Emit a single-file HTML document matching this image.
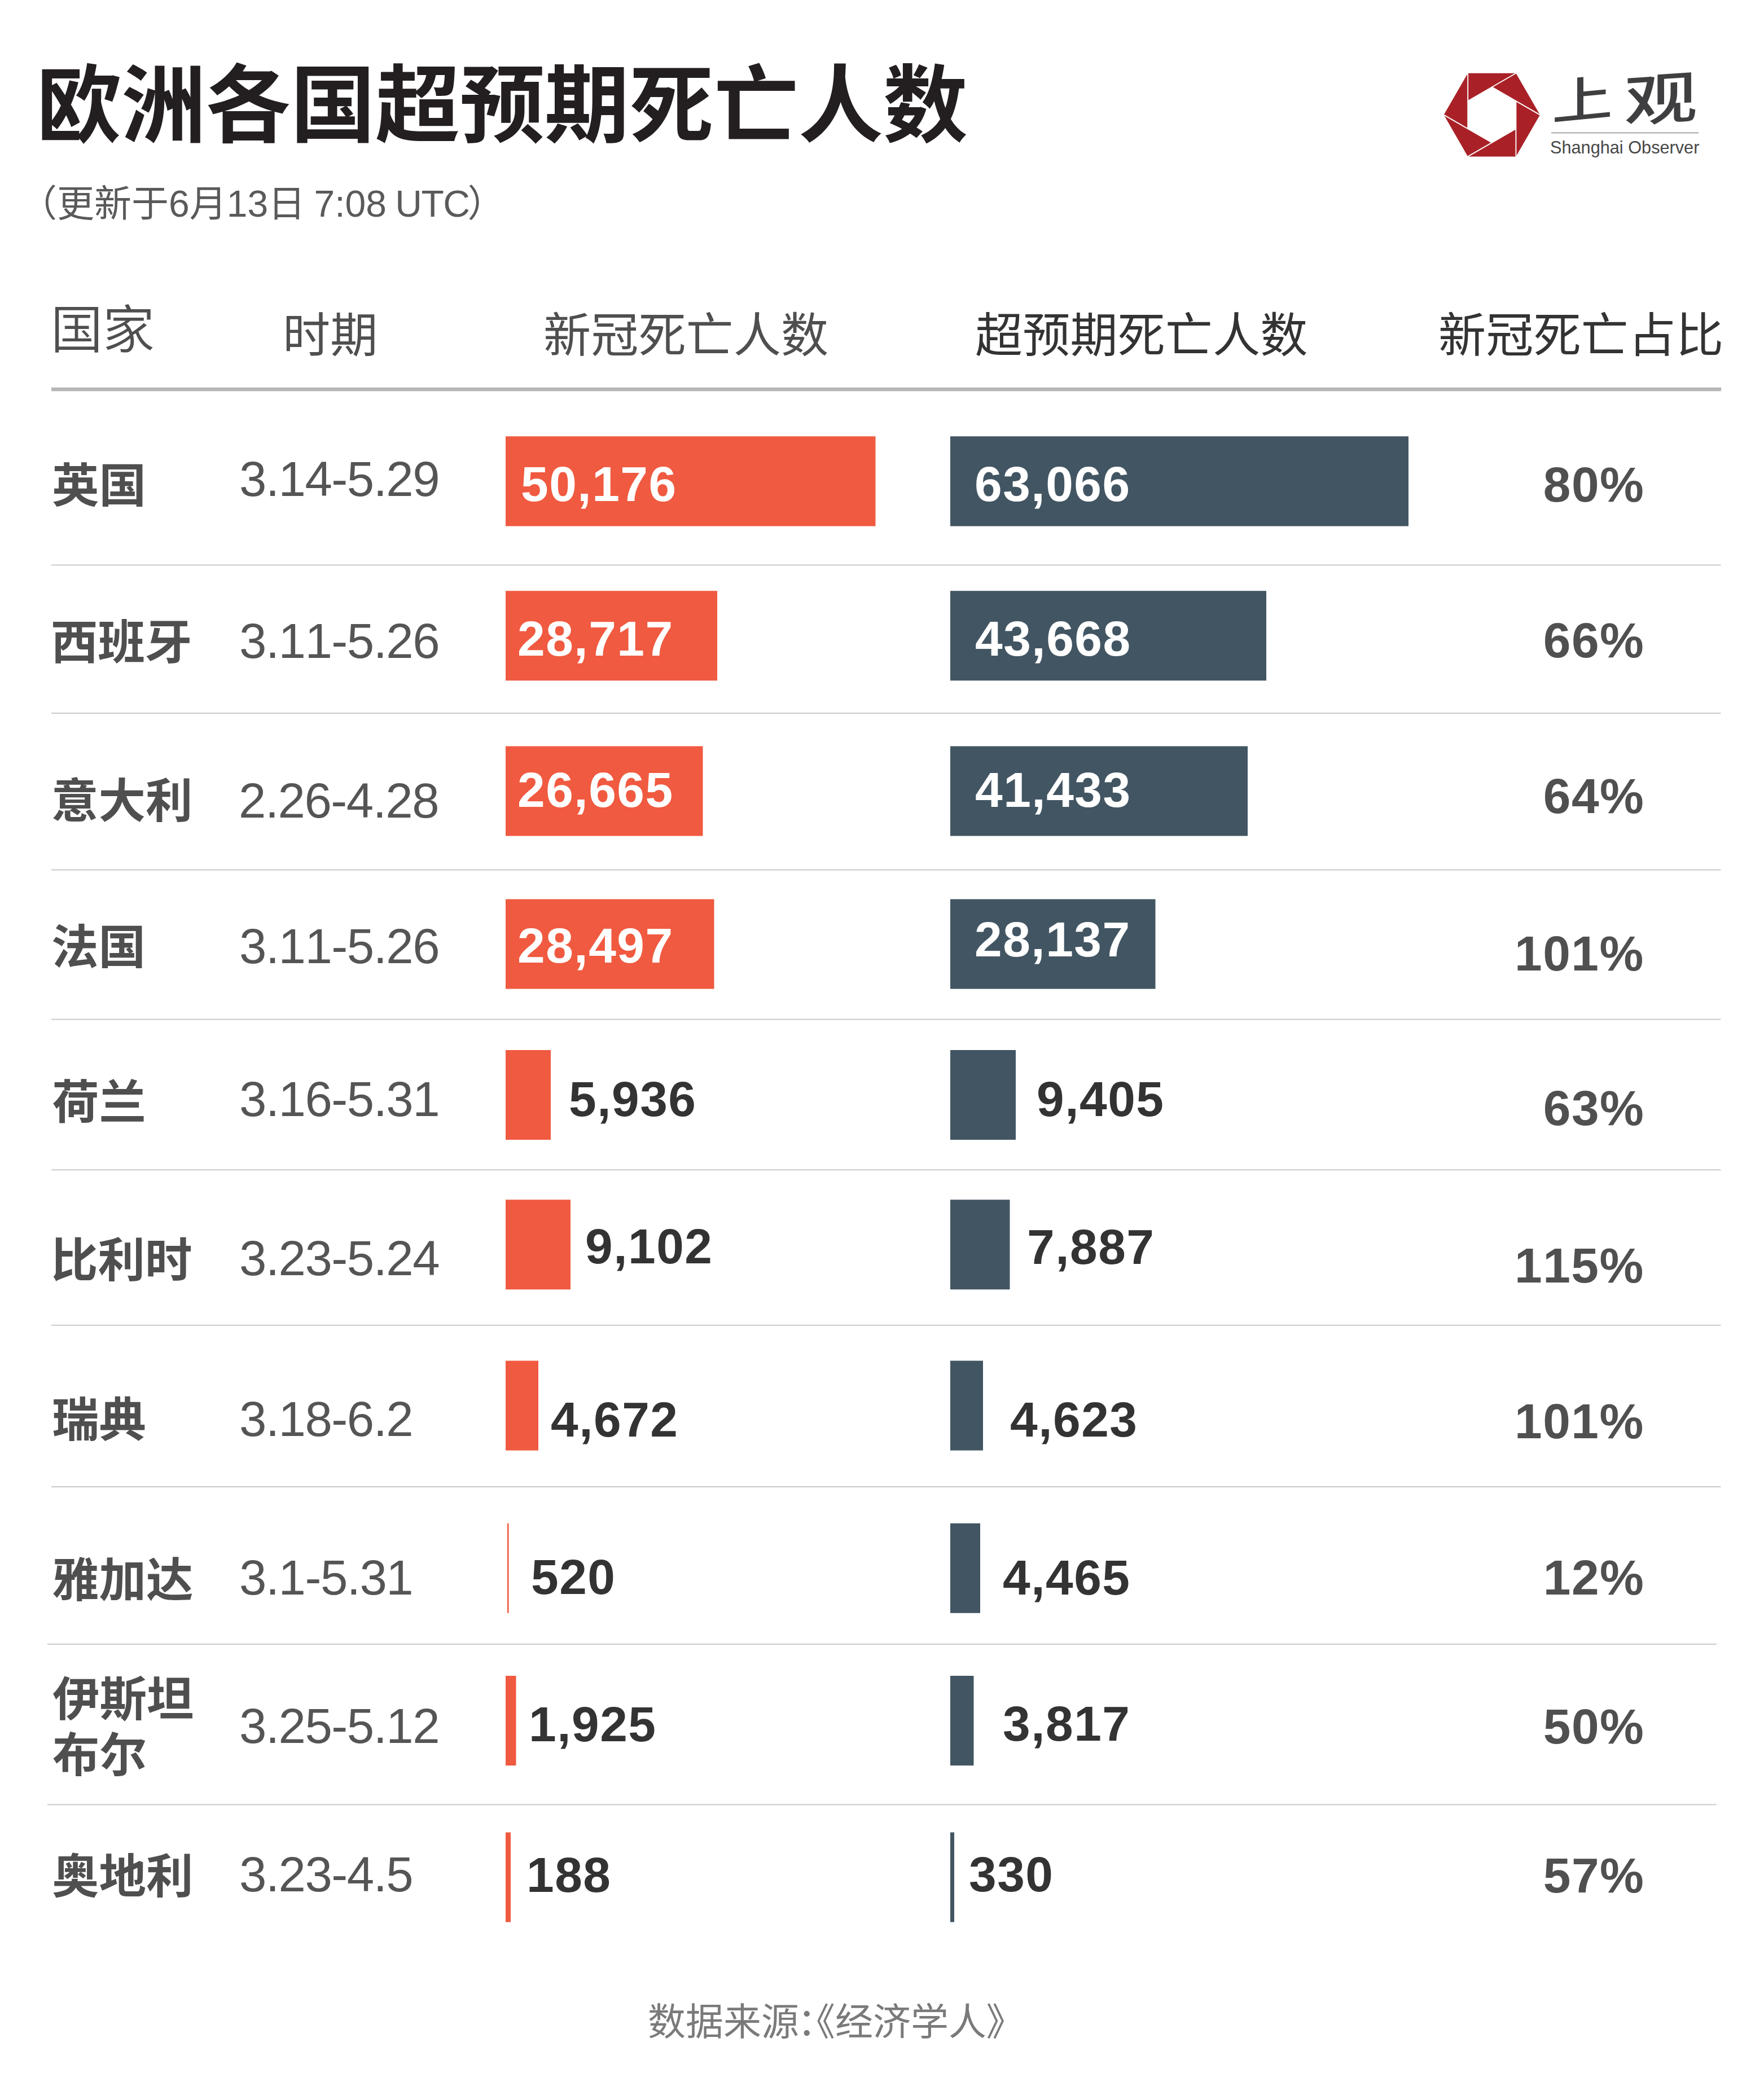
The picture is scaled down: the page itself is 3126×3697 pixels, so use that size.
<!DOCTYPE html>
<html lang="zh-CN">
<head>
<meta charset="utf-8">
<title>欧洲各国超预期死亡人数</title>
<style>
html,body{margin:0;padding:0;background:#fff;}
body{width:3126px;height:3697px;position:relative;overflow:hidden;font-family:"Liberation Sans", "Noto Sans CJK SC", sans-serif;}
.t{position:absolute;white-space:nowrap;line-height:1;margin:0;text-spacing-trim:space-all;}
.r{position:absolute;}
.hl{fill:#b6b6b6;}
.sp{fill:#cbcbcb;}
.rb{fill:#f05a40;}
.nb{fill:#425563;}
.title{font-size:150px;font-weight:700;color:#231f20;}
.sub{font-size:66px;font-weight:400;color:#5a5a5a;word-spacing:-3px;}
.sub .lat{letter-spacing:-1.5px;}
.sub .pe{margin-left:-3px;}
.hd{font-size:84.2px;font-weight:400;color:#4f4f4f;}
.hd.h1{font-size:92px;font-weight:350;}
.hd.dk{color:#333;}
.nm{font-size:83.5px;font-weight:700;color:#4f4f4f;line-height:98.5px;}
.dt{font-kerning:none;font-size:87px;font-weight:400;color:#555;letter-spacing:-1.5px;}
.num{font-kerning:none;font-size:87.5px;font-weight:700;color:#333;letter-spacing:1.5px;}
.num.wh{color:#fff;}
.num.pc{color:#505050;}
.foot{font-size:67px;font-weight:400;color:#7a7a7a;}
.foot .pc2{margin-left:-3px;margin-right:-1em;}
.foot .pr{margin-left:-0.5px;}
.brand{font-weight:500;color:#3f3f41;transform-origin:0 0;}
.lg1{font-size:108px;transform:scale(1,0.8) skewY(-7deg);}
.lg2{font-size:100px;transform:scale(1.3,1) skewY(-5deg);}
.lg3{font-size:30.7px;color:#474747;}
svg{position:absolute;left:0;top:0;overflow:visible;}
</style>
</head>
<body>
<svg width="3126" height="3697" viewBox="0 0 3126 3697">
<rect class="hl" x="91.0" y="686.7" width="2959.0" height="6.6"/>
<rect class="sp" x="91.0" y="1000.4" width="2958.5" height="2.0"/>
<rect class="sp" x="91.0" y="1263.0" width="2958.5" height="2.0"/>
<rect class="sp" x="91.0" y="1540.6" width="2958.5" height="2.0"/>
<rect class="sp" x="91.0" y="1805.6" width="2958.5" height="2.0"/>
<rect class="sp" x="91.0" y="2072.3" width="2958.5" height="2.0"/>
<rect class="sp" x="91.0" y="2347.7" width="2958.5" height="2.0"/>
<rect class="sp" x="91.0" y="2634.0" width="2958.5" height="2.0"/>
<rect class="sp" x="84.0" y="2913.0" width="2958.0" height="2.0"/>
<rect class="sp" x="84.0" y="3197.3" width="2958.0" height="2.0"/>
<rect class="rb" x="896.0" y="773.3" width="655.5" height="159.2"/>
<rect class="nb" x="1684.0" y="773.3" width="812.0" height="159.2"/>
<rect class="rb" x="896.0" y="1047.2" width="375.0" height="159.0"/>
<rect class="nb" x="1684.0" y="1047.2" width="560.0" height="159.0"/>
<rect class="rb" x="896.0" y="1322.5" width="349.5" height="159.0"/>
<rect class="nb" x="1684.0" y="1322.5" width="527.0" height="159.0"/>
<rect class="rb" x="896.0" y="1593.6" width="369.5" height="159.0"/>
<rect class="nb" x="1684.0" y="1593.6" width="363.5" height="159.0"/>
<rect class="rb" x="896.0" y="1861.0" width="80.0" height="159.0"/>
<rect class="nb" x="1684.0" y="1861.0" width="116.0" height="159.0"/>
<rect class="rb" x="896.0" y="2126.2" width="115.0" height="159.1"/>
<rect class="nb" x="1684.0" y="2126.2" width="105.5" height="159.1"/>
<rect class="rb" x="896.0" y="2411.6" width="58.0" height="159.0"/>
<rect class="nb" x="1684.0" y="2411.6" width="58.0" height="159.0"/>
<rect class="rb" x="899.0" y="2699.8" width="2.6" height="159.0"/>
<rect class="nb" x="1684.0" y="2699.8" width="53.0" height="159.0"/>
<rect class="rb" x="896.0" y="2970.0" width="18.5" height="159.0"/>
<rect class="nb" x="1684.0" y="2970.0" width="41.5" height="159.0"/>
<rect class="rb" x="896.0" y="3247.5" width="9.0" height="159.0"/>
<rect class="nb" x="1684.0" y="3247.5" width="7.0" height="159.0"/>
<polygon points="2601.2,129.8 2686.4,129.8 2729.0,203.6 2686.4,277.4 2601.2,277.4 2558.6,203.6" fill="#a92127"/>
<line x1="2601.2" y1="129.8" x2="2601.2" y2="228.2" stroke="#fff" stroke-width="1.9"/>
<line x1="2686.4" y1="129.8" x2="2601.2" y2="179.0" stroke="#fff" stroke-width="1.9"/>
<line x1="2729.0" y1="203.6" x2="2643.8" y2="154.4" stroke="#fff" stroke-width="1.9"/>
<line x1="2686.4" y1="277.4" x2="2686.4" y2="179.0" stroke="#fff" stroke-width="1.9"/>
<line x1="2601.2" y1="277.4" x2="2686.4" y2="228.2" stroke="#fff" stroke-width="1.9"/>
<line x1="2558.6" y1="203.6" x2="2643.8" y2="252.8" stroke="#fff" stroke-width="1.9"/>
<polygon points="2601.2,179.0 2643.8,154.4 2686.4,179.0 2686.4,228.2 2643.8,252.8 2601.2,228.2" fill="#fff"/>
<rect x="2749" y="235" width="261.3" height="0.9" fill="#4a4a4a"/>
</svg>
<header>
<div class="t title" id="title" style="left:65.0px;top:113.2px">欧洲各国超预期死亡人数</div>
<div class="t sub" id="sub" style="left:35.0px;top:328.0px">（更新于6月13日 7:08 <span class="lat">UTC</span><span class="pe">）</span></div>
<div class="logo">
<div class="t brand lg1" id="lg1" style="left:2750.0px;top:141.0px">上</div>
<div class="t brand lg2" id="lg2" style="left:2878.0px;top:131.0px">观</div>
<div class="t lg3" id="lg3" style="left:2747.0px;top:247.0px">Shanghai Observer</div>
</div>
</header>
<main>
<div class="thead">
<div class="t hd h1" id="h1" style="left:90.0px;top:539.0px">国家</div>
<div class="t hd" id="h2" style="left:501.0px;top:553.0px">时期</div>
<div class="t hd" id="h3" style="left:963.0px;top:553.0px">新冠死亡人数</div>
<div class="t hd dk" id="h4" style="left:1728.0px;top:553.0px">超预期死亡人数</div>
<div class="t hd dk" id="h5" style="left:2549.0px;top:553.0px">新冠死亡占比</div>
</div>
<div class="row">
<div class="t nm" id="n0" style="left:92.0px;top:812.0px">英国</div>
<div class="t dt" id="d0" style="left:424.0px;top:805.0px">3.14-5.29</div>
<div class="t num wh" id="a0" style="left:923.0px;top:815.0px">50,176</div>
<div class="t num wh" id="b0" style="left:1727.0px;top:815.0px">63,066</div>
<div class="t num pc" id="p0" style="left:2734.8px;top:816.0px">80%</div>
</div>
<div class="row">
<div class="t nm" id="n1" style="left:90.0px;top:1090.0px">西班牙</div>
<div class="t dt" id="d1" style="left:424.0px;top:1092.0px">3.11-5.26</div>
<div class="t num wh" id="a1" style="left:917.0px;top:1089.0px">28,717</div>
<div class="t num wh" id="b1" style="left:1728.0px;top:1089.0px">43,668</div>
<div class="t num pc" id="p1" style="left:2734.8px;top:1092.2px">66%</div>
</div>
<div class="row">
<div class="t nm" id="n2" style="left:91.0px;top:1371.0px">意大利</div>
<div class="t dt" id="d2" style="left:423.0px;top:1375.0px">2.26-4.28</div>
<div class="t num wh" id="a2" style="left:917.0px;top:1357.0px">26,665</div>
<div class="t num wh" id="b2" style="left:1728.0px;top:1357.0px">41,433</div>
<div class="t num pc" id="p2" style="left:2734.8px;top:1368.0px">64%</div>
</div>
<div class="row">
<div class="t nm" id="n3" style="left:91.0px;top:1630.0px">法国</div>
<div class="t dt" id="d3" style="left:424.0px;top:1633.0px">3.11-5.26</div>
<div class="t num wh" id="a3" style="left:917.0px;top:1633.0px">28,497</div>
<div class="t num wh" id="b3" style="left:1727.0px;top:1622.0px">28,137</div>
<div class="t num pc" id="p3" style="left:2684.0px;top:1647.0px">101%</div>
</div>
<div class="row">
<div class="t nm" id="n4" style="left:92.0px;top:1905.0px">荷兰</div>
<div class="t dt" id="d4" style="left:424.0px;top:1904.0px">3.16-5.31</div>
<div class="t num" id="a4" style="left:1008.0px;top:1905.0px">5,936</div>
<div class="t num" id="b4" style="left:1837.0px;top:1905.0px">9,405</div>
<div class="t num pc" id="p4" style="left:2734.8px;top:1921.0px">63%</div>
</div>
<div class="row">
<div class="t nm" id="n5" style="left:90.0px;top:2185.0px">比利时</div>
<div class="t dt" id="d5" style="left:424.0px;top:2186.0px">3.23-5.24</div>
<div class="t num" id="a5" style="left:1037.0px;top:2166.0px">9,102</div>
<div class="t num" id="b5" style="left:1820.0px;top:2167.0px">7,887</div>
<div class="t num pc" id="p5" style="left:2684.0px;top:2200.0px">115%</div>
</div>
<div class="row">
<div class="t nm" id="n6" style="left:92.0px;top:2468.0px">瑞典</div>
<div class="t dt" id="d6" style="left:424.0px;top:2471.0px">3.18-6.2</div>
<div class="t num" id="a6" style="left:976.0px;top:2473.0px">4,672</div>
<div class="t num" id="b6" style="left:1790.0px;top:2473.0px">4,623</div>
<div class="t num pc" id="p6" style="left:2684.0px;top:2476.2px">101%</div>
</div>
<div class="row">
<div class="t nm" id="n7" style="left:92.0px;top:2752.0px">雅加达</div>
<div class="t dt" id="d7" style="left:424.0px;top:2752.0px">3.1-5.31</div>
<div class="t num" id="a7" style="left:941.0px;top:2752.0px">520</div>
<div class="t num" id="b7" style="left:1777.0px;top:2753.0px">4,465</div>
<div class="t num pc" id="p7" style="left:2734.8px;top:2753.0px">12%</div>
</div>
<div class="row">
<div class="t nm" id="n8" style="left:93.0px;top:2963.0px">伊斯坦<br>布尔</div>
<div class="t dt" id="d8" style="left:424.0px;top:3015.0px">3.25-5.12</div>
<div class="t num" id="a8" style="left:937.0px;top:3013.0px">1,925</div>
<div class="t num" id="b8" style="left:1777.0px;top:3012.0px">3,817</div>
<div class="t num pc" id="p8" style="left:2734.8px;top:3017.0px">50%</div>
</div>
<div class="row">
<div class="t nm" id="n9" style="left:92.0px;top:3277.0px">奥地利</div>
<div class="t dt" id="d9" style="left:424.0px;top:3278.0px">3.23-4.5</div>
<div class="t num" id="a9" style="left:933.0px;top:3280.0px">188</div>
<div class="t num" id="b9" style="left:1717.0px;top:3279.0px">330</div>
<div class="t num pc" id="p9" style="left:2734.8px;top:3281.0px">57%</div>
</div>
</main>
<footer>
<div class="t foot" id="foot" style="left:1148.0px;top:3550.0px">数据来源<span class="pc2">：</span>《经济学人<span class="pr">》</span></div>
</footer>
</body>
</html>
